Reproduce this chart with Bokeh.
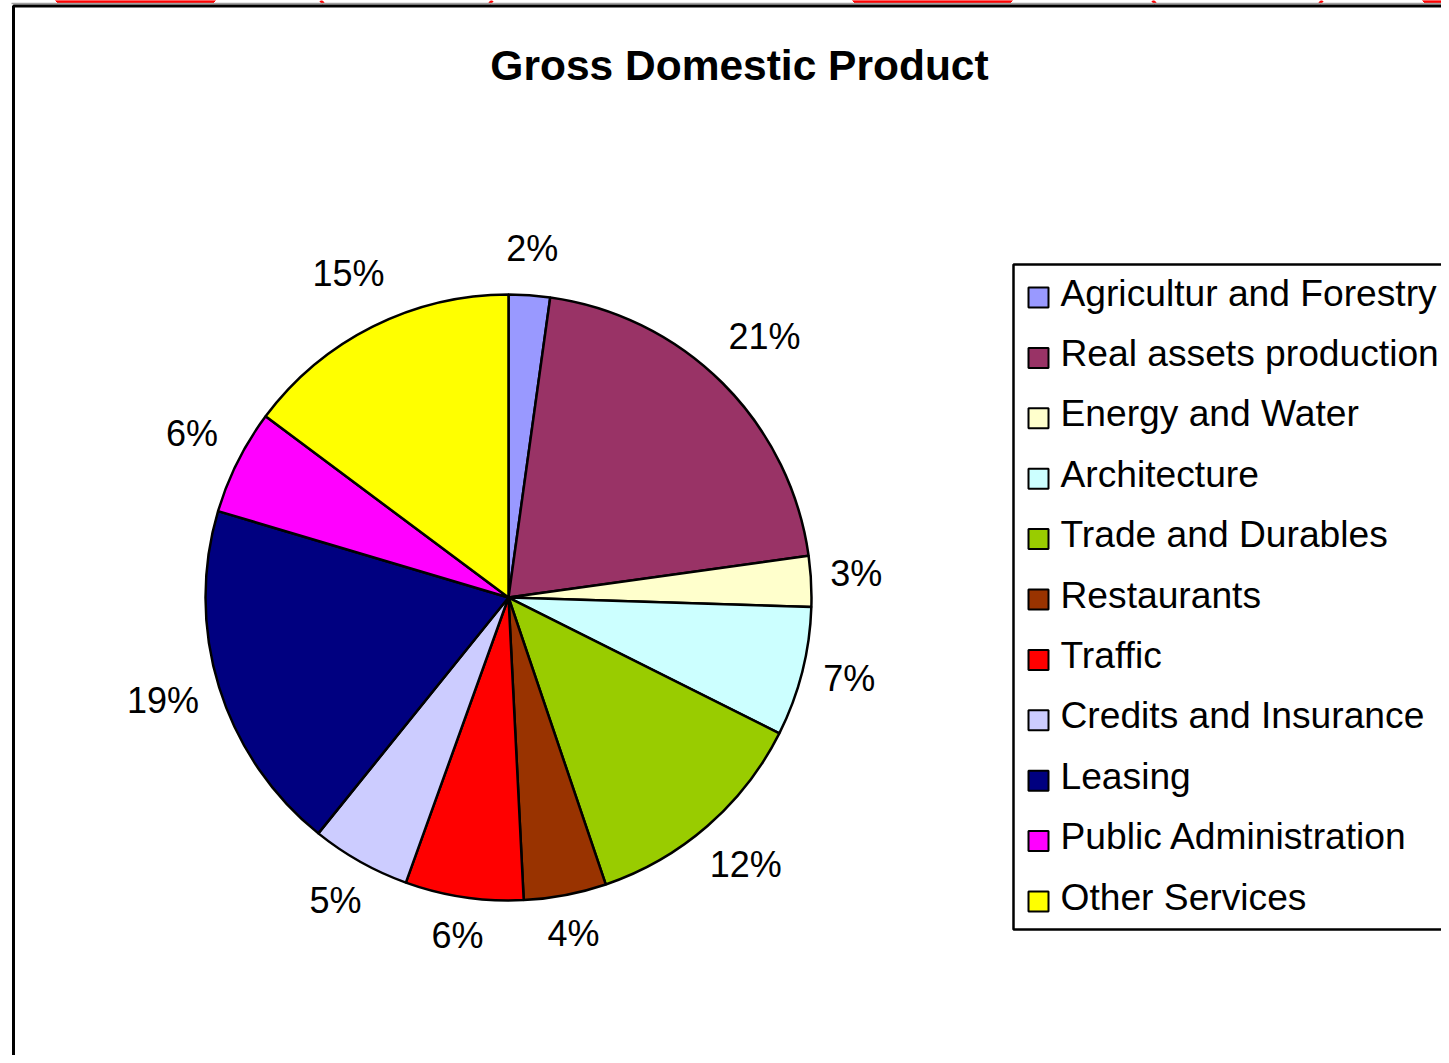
import numpy as np
from bokeh.plotting import figure
from bokeh.models import Range1d, ColumnDataSource
from bokeh.core.properties import value
from bokeh.embed import file_html
from bokeh.resources import INLINE

# ---------------- data ----------------
title_text = "Gross Domestic Product"
categories = ["Agricultur and Forestry", "Real assets production", "Energy and Water",
              "Architecture", "Trade and Durables", "Restaurants", "Traffic",
              "Credits and Insurance", "Leasing", "Public Administration", "Other Services"]
shares = [2.2, 20.6, 2.7, 6.9, 12.4, 4.4, 6.3, 5.3, 18.8, 5.6, 14.8]
colors = ["#9999FF", "#993366", "#FFFFCC", "#CCFFFF", "#99CC00", "#993300",
          "#FF0000", "#CCCCFF", "#000080", "#FF00FF", "#FFFF00"]

# ---------------- layout helpers (image pixel -> data) ----------------
W, H = 1441, 1055
def px(x):
    return x
def py(y):
    return H - y

FONT = "Liberation Sans"
cx, cy, R = px(508), py(597), 303

vals = np.array(shares, dtype=float)
frac = vals / vals.sum()
cum_end = np.cumsum(frac)
cum_start = cum_end - frac
# clockwise from 12 o'clock
start_angle = np.pi / 2 - 2 * np.pi * cum_end
end_angle = np.pi / 2 - 2 * np.pi * cum_start

labels = [f"{f * 100:.0f}%" for f in frac]
mid = (cum_start + cum_end) / 2 * 2 * np.pi  # clockwise from top
ux = np.sin(mid)
uy = np.cos(mid)
lab_fs = 36
tw = np.array([(0.556 * (len(l) - 1) + 0.889) * lab_fs for l in labels])
ext = np.abs(ux) * tw / 2 + np.abs(uy) * 22
rl = R + 18 + ext
lx = cx + rl * ux
ly = cy + rl * uy + 5

src = ColumnDataSource(dict(cat=categories, color=colors, sa=start_angle, ea=end_angle,
                            lab=labels, lx=lx, ly=ly))

p = figure(width=W, height=H, x_range=Range1d(0, W), y_range=Range1d(0, H),
           output_backend="svg", toolbar_location=None,
           x_axis_location=None, y_axis_location=None, min_border=0)
p.grid.visible = False
p.outline_line_color = None
p.background_fill_color = "white"
p.border_fill_color = "white"

# fragments of the page above (red shapes cut off at the top edge)
p.patches(xs=[[px(55), px(215), px(212), px(58)],
              [px(852), px(1012), px(1009), px(855)],
              [px(1422), px(1460), px(1460), px(1425)]],
          ys=[[py(0), py(0), py(3), py(3)]] * 3,
          fill_color="#FF0000", line_color="#FF0000", line_width=1)
p.multi_line(xs=[[px(320), px(323)], [px(492), px(489)],
                 [px(1152), px(1155)], [px(1322), px(1319)]],
             ys=[[py(0), py(3)]] * 4, line_color="#FF0000", line_width=3)
p.line(x=[px(11), px(1460)], y=[py(3), py(3)], line_color="#A0A0A0", line_width=1.5)

# outer chart border
p.quad(left=px(13), right=px(1480), top=py(5.5), bottom=py(1090),
       fill_color=None, line_color="black", line_width=3)

# title
p.text(x=[px(739)], y=[py(65)], text=[title_text], text_font=value(FONT),
       text_font_size="42.5px", text_font_style="bold", text_align="center",
       text_baseline="middle", text_color="black")

# pie
p.wedge(x=cx, y=cy, radius=R, start_angle="sa", end_angle="ea", source=src,
        fill_color="color", line_color="black", line_width=2.5)

# data labels
p.text(x="lx", y="ly", text="lab", source=src, text_font=value(FONT),
       text_font_size=f"{lab_fs}px", text_align="center", text_baseline="middle",
       text_color="black")

# legend box
p.quad(left=px(1013), right=px(1480), top=py(264), bottom=py(929),
       fill_color="white", line_color="black", line_width=2.5)
n = len(categories)
row_y = [py(297 + i * 60.4) for i in range(n)]
lsrc = ColumnDataSource(dict(cat=categories, color=colors, y=row_y,
                             ty=[y + 5 for y in row_y]))
p.rect(x=px(1038), y="y", width=20, height=20, source=lsrc,
       fill_color="color", line_color="black", line_width=2)
p.text(x=px(1060), y="ty", text="cat", source=lsrc, text_font=value(FONT),
       text_font_size="37.2px", text_align="left", text_baseline="middle",
       text_color="black")

open("out.html", "w").write(file_html(p, INLINE))
